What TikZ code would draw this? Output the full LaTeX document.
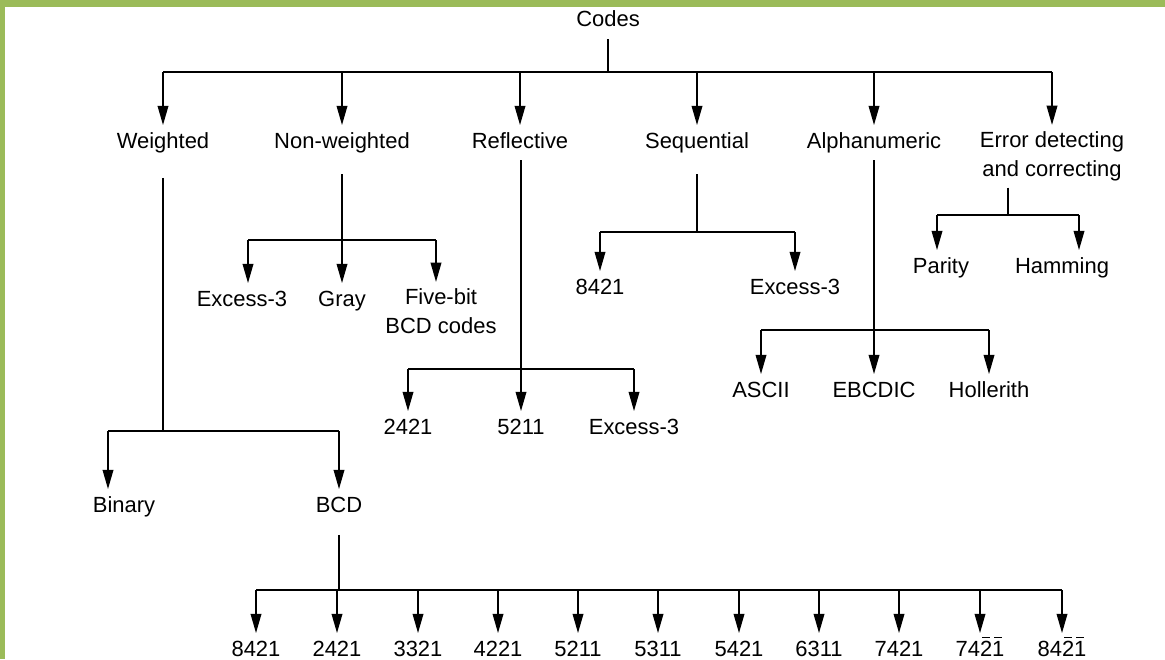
\documentclass[tikz,border=0pt]{standalone}
\usepackage{fontspec}
\setmainfont{Liberation Sans}
\usetikzlibrary{arrows.meta}
\definecolor{frameg}{RGB}{155,187,89}
\newcommand{\ovl}[1]{\leavevmode\rlap{\hspace{0.1em}\raisebox{0.8em}{\rule{0.36em}{0.9pt}}}#1}
\tikzset{
  lbl/.style={font=\fontsize{12.5}{16}\selectfont, inner sep=0pt, outer sep=4pt,
    text height=9pt, text depth=3pt, anchor=base},
  blbl/.style={lbl, text depth=0pt},
  mlbl/.style={font=\fontsize{12.5}{16}\selectfont, inner sep=0pt, outer sep=4pt,
    align=center, anchor=north},
  arr/.style={-{Triangle[length=11pt,width=6pt]}},
}
\begin{document}
\begin{tikzpicture}[x=0.02cm, y=-0.02cm, line width=1.1pt]
        \useasboundingbox (0,0) rectangle (1165,659);
        \fill[frameg] (0,0) rectangle (1165,7);
        \fill[frameg] (0,0) rectangle (5,659);

        % root and first level
        \node[lbl] (codes) at (608,27) {Codes};
        \coordinate (top) at (608,72);
        \node[lbl] (weighted) at (163,148) {Weighted};
        \node[lbl] (nonw) at (342,148) {Non-weighted};
        \node[lbl] (refl) at (520,148) {Reflective};
        \node[lbl] (seq) at (697,148) {Sequential};
        \node[lbl] (alpha) at (874,148) {Alphanumeric};
        \node[mlbl] (err) at (1052,125) {Error detecting\\and correcting};

        \draw (codes.south) -- (top);
        \draw (weighted |- top) -- (err |- top);
        \draw[arr] (weighted |- top) -- (weighted.north);
        \draw[arr] (nonw |- top) -- (nonw.north);
        \draw[arr] (refl |- top) -- (refl.north);
        \draw[arr] (seq |- top) -- (seq.north);
        \draw[arr] (alpha |- top) -- (alpha.north);
        \draw[arr] (err |- top) -- (err.north);

        % weighted
        \coordinate (wbar) at (163,431);
        \coordinate (wl) at (108,431);
        \node[lbl] (binary) at (124,512) {Binary};
        \node[lbl] (bcd) at (339,512) {BCD};
        \draw[shorten <=10pt] (weighted.south) -- (wbar);
        \draw (wl) -- (bcd |- wbar);
        \draw[arr] (wl) -- (wl |- binary.north);
        \draw[arr] (bcd |- wbar) -- (bcd.north);

        % non-weighted
        \coordinate (nbar) at (342,240);
        \coordinate (nl) at (248,240);
        \coordinate (nr) at (436,240);
        \node[lbl] (nex) at (242,306) {Excess-3};
        \node[lbl] (gray) at (342,306) {Gray};
        \node[mlbl] (five) at (441,282) {Five-bit\\BCD codes};
        \draw[shorten <=8pt] (nonw.south) -- (nbar);
        \draw (nl) -- (nr);
        \draw[arr] (nl) -- (nl |- nex.north);
        \draw[arr] (nbar) -- (gray.north);
        \draw[arr] (nr) -- (nr |- five.north);

        % reflective
        \coordinate (rbar) at (521,369);
        \node[lbl] (r2421) at (408,434) {2421};
        \node[lbl] (r5211) at (521,434) {5211};
        \node[lbl] (rex) at (634,434) {Excess-3};
        \draw (refl.south -| rbar) -- (rbar);
        \draw (r2421 |- rbar) -- (rex |- rbar);
        \draw[arr] (r2421 |- rbar) -- (r2421.north);
        \draw[arr] (rbar) -- (r5211.north);
        \draw[arr] (rex |- rbar) -- (rex.north);

        % sequential
        \coordinate (sbar) at (697,232);
        \node[lbl] (s8421) at (600,294) {8421};
        \node[lbl] (sex) at (795,294) {Excess-3};
        \draw[shorten <=8pt] (seq.south) -- (sbar);
        \draw (s8421 |- sbar) -- (sex |- sbar);
        \draw[arr] (s8421 |- sbar) -- (s8421.north);
        \draw[arr] (sex |- sbar) -- (sex.north);

        % alphanumeric
        \coordinate (abar) at (874,330);
        \node[lbl] (ascii) at (761,397) {ASCII};
        \node[lbl] (ebcdic) at (874,397) {EBCDIC};
        \node[lbl] (holl) at (989,397) {Hollerith};
        \draw (alpha.south) -- (abar);
        \draw (ascii |- abar) -- (holl |- abar);
        \draw[arr] (ascii |- abar) -- (ascii.north);
        \draw[arr] (abar) -- (ebcdic.north);
        \draw[arr] (holl |- abar) -- (holl.north);

        % error detecting and correcting
        \coordinate (ebar) at (1008,215);
        \coordinate (el) at (937,215);
        \coordinate (er) at (1079,215);
        \node[lbl] (parity) at (941,273) {Parity};
        \node[lbl] (hamming) at (1062,273) {Hamming};
        \draw (err.south -| ebar) -- (ebar);
        \draw (el) -- (er);
        \draw[arr] (el) -- (el |- parity.north);
        \draw[arr] (er) -- (er |- hamming.north);

        % BCD codes
        \coordinate (bbar) at (339,590);
        \node[blbl] (b1) at (256,656) {8421};
        \node[blbl] (b2) at (337,656) {2421};
        \node[blbl] (b3) at (418,656) {3321};
        \node[blbl] (b4) at (498,656) {4221};
        \node[blbl] (b5) at (578,656) {5211};
        \node[blbl] (b6) at (658,656) {5311};
        \node[blbl] (b7) at (739,656) {5421};
        \node[blbl] (b8) at (819,656) {6311};
        \node[blbl] (b9) at (899,656) {7421};
        \node[blbl] (b10) at (980,656) {74\ovl{2}\ovl{1}};
        \node[blbl] (b11) at (1062,656) {84\ovl{2}\ovl{1}};
        \draw[shorten <=6pt] (bcd.south) -- (bbar);
        \draw (b1 |- bbar) -- (b11 |- bbar);
        \draw[arr] (b1 |- bbar) -- (b1.north);
        \draw[arr] (b2 |- bbar) -- (b2.north);
        \draw[arr] (b3 |- bbar) -- (b3.north);
        \draw[arr] (b4 |- bbar) -- (b4.north);
        \draw[arr] (b5 |- bbar) -- (b5.north);
        \draw[arr] (b6 |- bbar) -- (b6.north);
        \draw[arr] (b7 |- bbar) -- (b7.north);
        \draw[arr] (b8 |- bbar) -- (b8.north);
        \draw[arr] (b9 |- bbar) -- (b9.north);
        \draw[arr] (b10 |- bbar) -- (b10.north);
        \draw[arr] (b11 |- bbar) -- (b11.north);
\end{tikzpicture}
\end{document}
